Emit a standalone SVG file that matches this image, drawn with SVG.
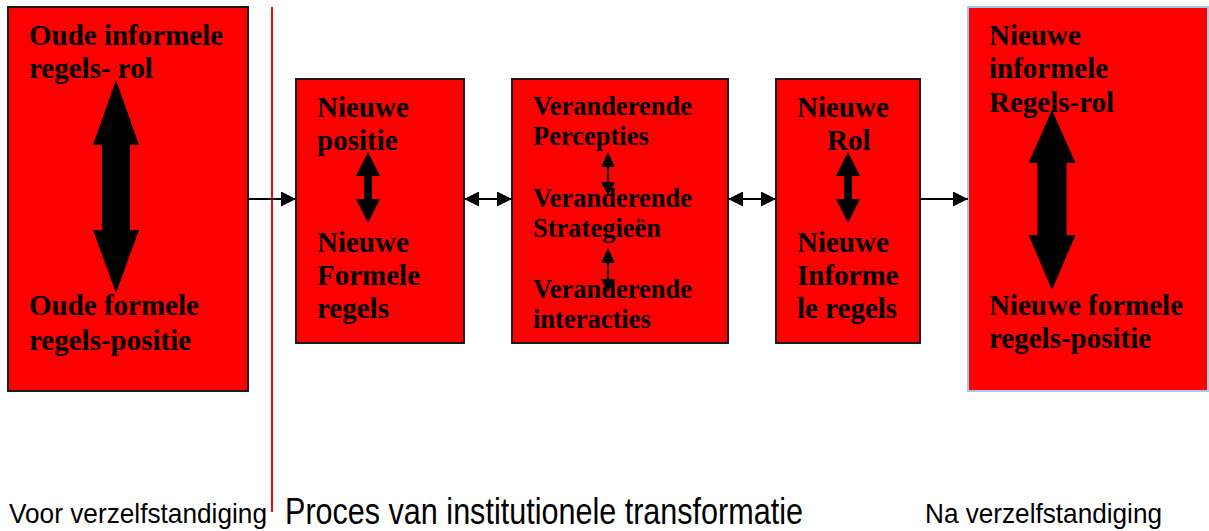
<svg xmlns="http://www.w3.org/2000/svg" width="1209" height="531" viewBox="0 0 1209 531">
  <style>
    .box { fill: #ff0000; stroke: #1a1a1a; stroke-width: 2; }
    .box-alt { fill: #ff0000; stroke: #a4c6f4; stroke-width: 2; }
    .lbl { font-family: "Liberation Serif", "Times New Roman", serif; font-weight: bold; font-size: 29px; fill: #000; }
    .lbl-sm { font-size: 26.5px; }
    .cap { font-family: "Liberation Sans", Arial, sans-serif; fill: #000; }
    .conn { stroke: #000; stroke-width: 2; fill: none; }
    .thick { fill: #000; }
  </style>
  <defs>
    <marker id="head" viewBox="0 0 15 15" refX="15" refY="7.5" markerWidth="15" markerHeight="15" markerUnits="userSpaceOnUse" orient="auto-start-reverse">
      <path d="M0,0 L15,7.5 L0,15 Z" fill="#000"/>
    </marker>
  </defs>

  <!-- divider between "before" and "process" -->
  <line x1="272" y1="7" x2="272" y2="512" stroke="#ff0000" stroke-width="2"/>

  <g id="node-oud">
    <rect class="box" x="8" y="7" width="240" height="384"/>
    <polygon class="thick" points="116,80 139,145 130,145 130,230 139,230 116,293 93,230 102,230 102,145 93,145"/>
    <text class="lbl" x="29" y="45">Oude informele</text>
    <text class="lbl" x="29" y="78">regels- rol</text>
    <text class="lbl" x="29" y="315">Oude formele</text>
    <text class="lbl" x="29" y="350">regels-positie</text>
  </g>

  <g id="node-positie">
    <rect class="box" x="296" y="79" width="168" height="264"/>
    <polygon class="thick" points="368,152 380,176 372,176 372,199 380,199 368,223 356,199 364,199 364,176 356,176"/>
    <text class="lbl" x="317" y="117">Nieuwe</text>
    <text class="lbl" x="317" y="150">positie</text>
    <text class="lbl" x="317" y="252">Nieuwe</text>
    <text class="lbl" x="317" y="285">Formele</text>
    <text class="lbl" x="317" y="318">regels</text>
  </g>

  <g id="node-veranderend">
    <rect class="box" x="512" y="79" width="216" height="264"/>
    <text class="lbl lbl-sm" x="533" y="115">Veranderende</text>
    <text class="lbl lbl-sm" x="533" y="145">Percepties</text>
    <text class="lbl lbl-sm" x="533" y="207">Veranderende</text>
    <text class="lbl lbl-sm" x="533" y="237">Strategieën</text>
    <text class="lbl lbl-sm" x="533" y="298">Veranderende</text>
    <text class="lbl lbl-sm" x="533" y="328">interacties</text>
    <line x1="608" y1="160" x2="608" y2="188" stroke="#000" stroke-width="2"/>
    <polygon class="thick" points="608,152 615,167 601,167"/>
    <polygon class="thick" points="608,195 615,182 601,182"/>
    <line x1="608" y1="256" x2="608" y2="285" stroke="#000" stroke-width="2"/>
    <polygon class="thick" points="608,248 615,263 601,263"/>
    <polygon class="thick" points="608,292 615,279 601,279"/>
  </g>

  <g id="node-rol">
    <rect class="box" x="776" y="79" width="144" height="264"/>
    <polygon class="thick" points="848,152 860,176 852,176 852,199 860,199 848,223 836,199 844,199 844,176 836,176"/>
    <text class="lbl" x="797" y="117">Nieuwe</text>
    <text class="lbl" x="827" y="150">Rol</text>
    <text class="lbl" x="797" y="252">Nieuwe</text>
    <text class="lbl" x="797" y="285">Informe</text>
    <text class="lbl" x="797" y="318">le regels</text>
  </g>

  <g id="node-nieuw">
    <rect class="box-alt" x="968" y="7" width="240" height="384"/>
    <polygon class="thick" points="1052,110 1075.5,163 1066.5,163 1066.5,235 1075.5,235 1052,290 1028.5,235 1037.5,235 1037.5,163 1028.5,163"/>
    <text class="lbl" x="989" y="45">Nieuwe</text>
    <text class="lbl" x="989" y="78">informele</text>
    <text class="lbl" x="989" y="112">Regels-rol</text>
    <text class="lbl" x="989" y="315">Nieuwe formele</text>
    <text class="lbl" x="989" y="348">regels-positie</text>
  </g>

  <g id="connectors">
    <line class="conn" x1="248" y1="199" x2="296" y2="199" marker-end="url(#head)"/>
    <line class="conn" x1="464" y1="199" x2="512" y2="199" marker-start="url(#head)" marker-end="url(#head)"/>
    <line class="conn" x1="728" y1="199" x2="776" y2="199" marker-start="url(#head)" marker-end="url(#head)"/>
    <line class="conn" x1="920" y1="199" x2="968" y2="199" marker-end="url(#head)"/>
  </g>

  <g id="phase-labels">
    <text class="cap" x="9" y="523" font-size="28" textLength="258" lengthAdjust="spacingAndGlyphs">Voor verzelfstandiging</text>
    <text class="cap" x="285" y="524" font-size="36" textLength="518" lengthAdjust="spacingAndGlyphs">Proces van institutionele transformatie</text>
    <text class="cap" x="925" y="523" font-size="28" textLength="237" lengthAdjust="spacingAndGlyphs">Na verzelfstandiging</text>
  </g>
</svg>
